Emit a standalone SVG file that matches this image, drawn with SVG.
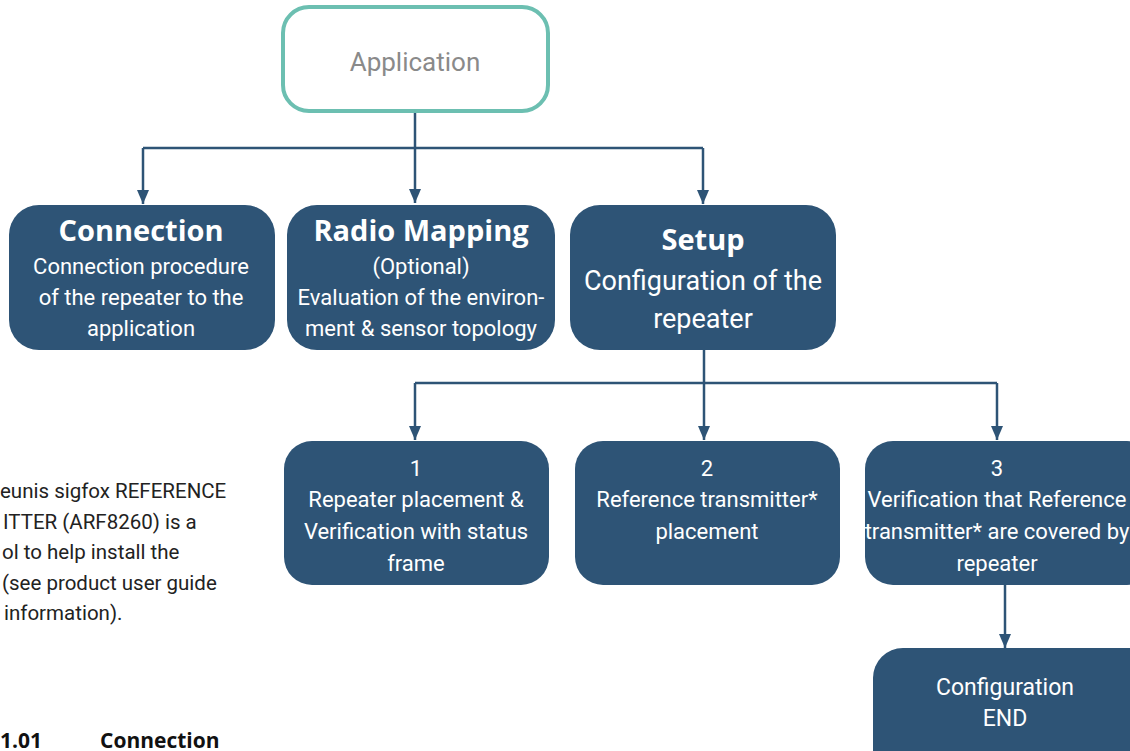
<svg xmlns="http://www.w3.org/2000/svg" width="1130" height="751" viewBox="0 0 1130 751">
<style>
.box{fill:#2e5476}
.t{font-family:Roboto,"Liberation Sans",sans-serif;fill:#fff;text-anchor:middle;font-size:22px}
.b{font-family:"Open Sans","Liberation Sans",sans-serif;font-weight:bold;font-size:29px}
.c{fill:none;stroke:#2e5476;stroke-width:2.5}
.body{font-family:Roboto,"Liberation Sans",sans-serif;fill:#222;font-size:20.5px}
.hb{font-family:"Open Sans","Liberation Sans",sans-serif;font-weight:bold;fill:#111;font-size:21px}
</style>
<defs>
<marker id="a" markerWidth="14" markerHeight="12" refX="14" refY="6" orient="auto" markerUnits="userSpaceOnUse" viewBox="0 0 14 12">
<path d="M0,0 L14,6 L0,12 Z" fill="#2e5476"/>
</marker>
</defs>
<rect width="1130" height="751" fill="#fff"/>
<g id="connectors">
<path class="c" d="M415,112 V203" marker-end="url(#a)"/>
<path class="c" d="M143,148 H703"/>
<path class="c" d="M143,148 V204" marker-end="url(#a)"/>
<path class="c" d="M703,148 V204" marker-end="url(#a)"/>
<path class="c" d="M704,350 V440" marker-end="url(#a)"/>
<path class="c" d="M415,383 H997"/>
<path class="c" d="M415,383 V440" marker-end="url(#a)"/>
<path class="c" d="M997,383 V440" marker-end="url(#a)"/>
<path class="c" d="M1005,585 V648" marker-end="url(#a)"/>
</g>
<g id="application">
<rect x="283" y="7" width="265" height="104" rx="26" fill="#fff" stroke="#6cbfb1" stroke-width="4"/>
<text class="t" x="415" y="71" style="fill:#8a8a8a;font-size:26px">Application</text>
</g>
<g id="connection">
<rect class="box" x="9" y="205" width="266" height="145" rx="30"/>
<text class="t b" x="141" y="241">Connection</text>
<text class="t" x="141" y="274">Connection procedure</text>
<text class="t" x="141" y="305">of the repeater to the</text>
<text class="t" x="141" y="336">application</text>
</g>
<g id="radio-mapping">
<rect class="box" x="287" y="205" width="268" height="145" rx="30"/>
<text class="t b" x="421" y="241">Radio Mapping</text>
<text class="t" x="421" y="274">(Optional)</text>
<text class="t" x="421" y="305">Evaluation of the environ-</text>
<text class="t" x="421" y="336">ment &amp; sensor topology</text>
</g>
<g id="setup">
<rect class="box" x="570" y="205" width="266" height="145" rx="30"/>
<text class="t b" x="703" y="250">Setup</text>
<text class="t" x="703" y="290" style="font-size:27px">Configuration of the</text>
<text class="t" x="703" y="328" style="font-size:27px">repeater</text>
</g>
<g id="step1">
<rect class="box" x="284" y="441" width="265" height="144" rx="28"/>
<text class="t" x="416" y="476">1</text>
<text class="t" x="416" y="507">Repeater placement &amp;</text>
<text class="t" x="416" y="539">Verification with status</text>
<text class="t" x="416" y="571">frame</text>
</g>
<g id="step2">
<rect class="box" x="575" y="441" width="265" height="144" rx="28"/>
<text class="t" x="707" y="476">2</text>
<text class="t" x="707" y="507">Reference transmitter*</text>
<text class="t" x="707" y="539">placement</text>
</g>
<g id="step3">
<rect class="box" x="865" y="441" width="290" height="144" rx="28"/>
<text class="t" x="997" y="476">3</text>
<text class="t" x="997" y="507">Verification that Reference</text>
<text class="t" x="997" y="539">transmitter* are covered by</text>
<text class="t" x="997" y="571">repeater</text>
</g>
<g id="config-end">
<rect class="box" x="873" y="648" width="290" height="140" rx="30"/>
<text class="t" x="1005" y="695" style="font-size:23px">Configuration</text>
<text class="t" x="1005" y="726" style="font-size:23px">END</text>
</g>
<g id="body-text">
<text class="body" x="0" y="498">eunis sigfox REFERENCE</text>
<text class="body" x="3" y="529">ITTER (ARF8260) is a</text>
<text class="body" x="2" y="559">ol to help install the</text>
<text class="body" x="2" y="590">(see product user guide</text>
<text class="body" x="4" y="620">information).</text>
<text class="hb" x="0" y="748">1.01</text>
<text class="hb" x="100" y="748">Connection</text>
</g>
</svg>
